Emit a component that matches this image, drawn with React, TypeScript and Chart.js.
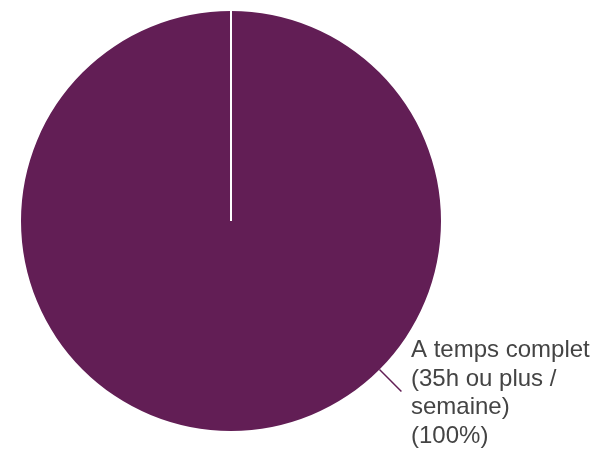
import React, { useEffect, useRef } from "react";
import { Chart, registerables } from "chart.js";

Chart.register(...registerables);

const categories: string[] = ["A temps complet (35h ou plus / semaine)"];
const values: number[] = [100];
const labelLines: string[] = ["A temps complet", "(35h ou plus /", "semaine)", "(100%)"];
const colors: string[] = ["#621E55"];

const labelPlugin = {
  id: "outLabel",
  afterDatasetsDraw(chart: any) {
    const ctx = chart.ctx;
    const meta = chart.getDatasetMeta(0);
    const arc = meta.data[0];
    if (!arc) return;
    const { x, y, outerRadius } = arc.getProps(["x", "y", "outerRadius"], true);
    ctx.save();
    // white seam from the top to the centre
    ctx.strokeStyle = "#ffffff";
    ctx.lineWidth = 2;
    ctx.beginPath();
    ctx.moveTo(x, y);
    ctx.lineTo(x, y - outerRadius - 1);
    ctx.stroke();
    // leader line
    const ang = Math.PI / 4;
    const r1 = outerRadius;
    const r2 = outerRadius + 31;
    ctx.strokeStyle = colors[0];
    ctx.lineWidth = 1.5;
    ctx.beginPath();
    ctx.moveTo(x + Math.cos(ang) * r1, y + Math.sin(ang) * r1);
    ctx.lineTo(x + Math.cos(ang) * r2, y + Math.sin(ang) * r2);
    ctx.stroke();
    // text
    ctx.fillStyle = "#444444";
    ctx.font = '24px "Liberation Sans", Arial, sans-serif';
    ctx.textAlign = "left";
    ctx.textBaseline = "alphabetic";
    const tx = x + 180;
    let ty = y + 136;
    for (const line of labelLines) {
      ctx.fillText(line, tx, ty);
      ty += 28.5;
    }
    ctx.restore();
  },
};

export default function App() {
  const ref = useRef<HTMLCanvasElement>(null);
  useEffect(() => {
    document.body.style.margin = "0";
    const chart = new Chart(ref.current!, {
      type: "pie",
      data: {
        labels: categories,
        datasets: [
          {
            data: values,
            backgroundColor: colors,
            borderWidth: 0,
          },
        ],
      },
      options: {
        responsive: false,
        animation: false,
        layout: { padding: { left: 21, top: 11, right: 158, bottom: 23 } },
        plugins: { legend: { display: false }, tooltip: { enabled: false } },
      },
      plugins: [labelPlugin],
    });
    return () => chart.destroy();
  }, []);
  return <canvas ref={ref} width={599} height={454} style={{ display: "block" }} />;
}
